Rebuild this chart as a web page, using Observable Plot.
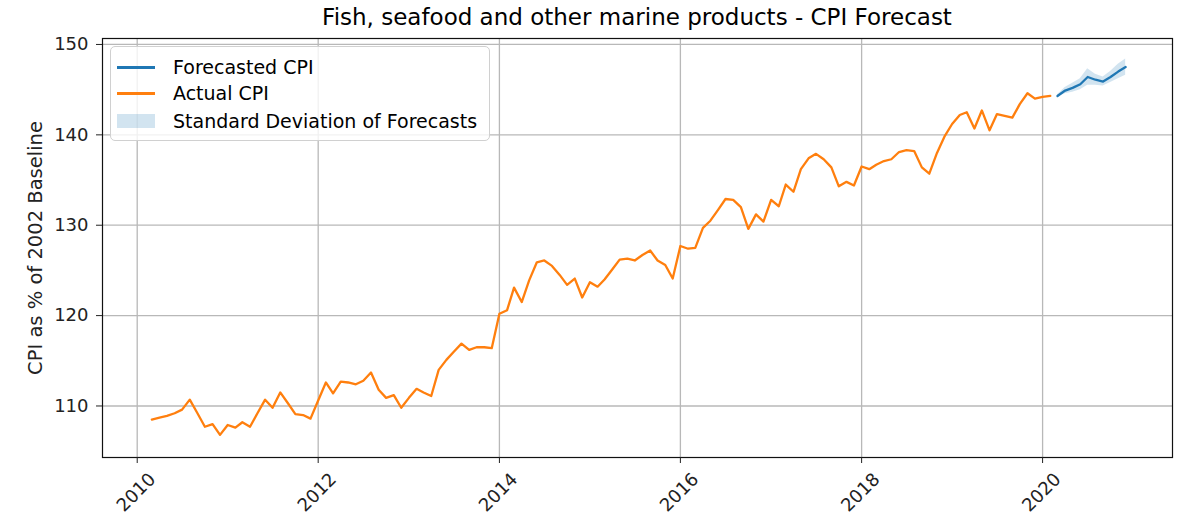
<!DOCTYPE html>
<html><head><meta charset="utf-8">
<script src="https://cdn.jsdelivr.net/npm/d3@7"></script>
<script src="https://cdn.jsdelivr.net/npm/@observablehq/plot@0.6"></script>
<style>
body{margin:0;background:#fff;font-family:"DejaVu Sans",sans-serif;}
#wrap{position:relative;width:1178px;height:521px;}
#title{height:30px;line-height:35px;padding-left:102px;width:1070px;text-align:center;font-size:23px;color:#000;white-space:nowrap;}
#legend{position:absolute;left:110px;top:46px;width:380px;height:95px;border:1px solid #d0d0d0;border-radius:5px;background:rgba(255,255,255,0.8);box-sizing:border-box;font-size:19px;color:#000;}
.row{position:absolute;left:0;width:100%;height:26px;}
.sw{position:absolute;left:6px;width:38px;}
.lab{position:absolute;left:62px;top:0;line-height:26px;white-space:nowrap;}
</style></head><body>
<div id="wrap">
<div id="title">Fish, seafood and other marine products - CPI Forecast</div>
<div id="chart"></div>
<div id="legend"></div>
</div>
<script>
// Monthly actual CPI, Mar 2010 .. Feb 2020
const actualStart = "2010-03-01";
const actualCPI = [
108.5,108.7,108.9,109.2,109.6,110.7,109.2,107.7,108.0,106.8,
107.9,107.6,108.2,107.7,109.2,110.7,109.8,111.5,110.3,109.1,
109.0,108.6,110.6,112.6,111.4,112.7,112.6,112.4,112.8,113.7,
111.8,110.9,111.2,109.8,110.9,111.9,111.5,111.1,114.0,115.1,
116.0,116.9,116.2,116.5,116.5,116.4,120.2,120.6,123.1,121.5,
123.9,125.9,126.1,125.5,124.5,123.4,124.1,122.0,123.7,123.2,
124.0,125.1,126.2,126.3,126.1,126.7,127.2,126.1,125.6,124.1,
127.7,127.4,127.5,129.7,130.5,131.7,132.9,132.8,132.0,129.6,
131.2,130.4,132.8,132.1,134.5,133.7,136.2,137.4,137.9,137.3,
136.4,134.3,134.8,134.4,136.5,136.2,136.7,137.1,137.3,138.1,
138.3,138.2,136.4,135.7,138.0,139.8,141.2,142.2,142.5,140.7,
142.7,140.5,142.3,142.1,141.9,143.4,144.6,144.0,144.2,144.3
];
// Forecast, Mar 2020 .. Dec 2020
const forecastCPI = [144.3,144.9,145.2,145.6,146.4,146.1,145.9,146.4,147.0,147.5];
const forecastStd = [0.15,0.35,0.5,0.6,0.9,0.6,0.5,0.6,0.8,0.9];
const yTicks = [110,120,130,140,150];
const xTickYears = [2010,2012,2014,2016,2018,2020];
const yLabel = "CPI as % of 2002 Baseline";
const seriesNames = ["Forecasted CPI","Actual CPI","Standard Deviation of Forecasts"];
const colors = {forecast:"#1f77b4", actual:"#ff7f0e"};

const start = new Date(actualStart + "T00:00:00Z");
const actual = actualCPI.map((v,i)=>({date:d3.utcMonth.offset(start,i), value:v}));
const forecast = forecastCPI.map((v,i)=>({date:d3.utcMonth.offset(start,actualCPI.length+i), value:v, lo:v-forecastStd[i], hi:v+forecastStd[i]}));
const tickDates = xTickYears.map(y=>new Date(Date.UTC(y,0,1)));

const chart = Plot.plot({
  width:1178, height:491, marginTop:8, marginBottom:64, marginLeft:102, marginRight:6,
  x:{type:"utc", domain:[new Date(Date.UTC(2009,7,14)), new Date(Date.UTC(2021,5,8))]},
  y:{domain:[104.3,150.66]},
  style:{fontFamily:"DejaVu Sans", fontSize:"18px", color:"#222", background:"#fff", overflow:"visible"},
  marks:[
    Plot.gridX(tickDates,{stroke:"#b8b8b8", strokeOpacity:1, strokeWidth:1.3}),
    Plot.gridY(yTicks,{stroke:"#b8b8b8", strokeOpacity:1, strokeWidth:1.3}),
    Plot.areaY(forecast,{x:"date", y1:"lo", y2:"hi", fill:colors.forecast, fillOpacity:0.2}),
    Plot.lineY(actual,{x:"date", y:"value", stroke:colors.actual, strokeWidth:2.3}),
    Plot.lineY(forecast,{x:"date", y:"value", stroke:colors.forecast, strokeWidth:2.3}),
    Plot.frame({stroke:"#111", strokeWidth:1.2}),
    Plot.axisY(yTicks,{tickSize:6, tickPadding:8, fontSize:18, label:null}),
    Plot.text([yLabel],{text:d=>d, frameAnchor:"left", rotate:-90, dx:-67, fontSize:19.5, textAnchor:"middle", lineAnchor:"middle", fill:"#222"}),
    Plot.axisX(tickDates,{tickSize:6, tickFormat:()=>"", label:null}),
    Plot.text(tickDates,{x:d=>d, frameAnchor:"bottom", text:d=>String(d.getUTCFullYear()), rotate:-45, dy:35, dx:-1, fontSize:18, textAnchor:"middle", lineAnchor:"middle", fill:"#222"})
  ]
});
document.getElementById("chart").appendChild(chart);

const leg = document.getElementById("legend");
const rowsTop = [7, 33, 61];
seriesNames.forEach((name,i)=>{
  const r = document.createElement("div");
  r.className="row"; r.style.top = rowsTop[i]+"px";
  const sw = document.createElement("div"); sw.className="sw";
  if(i<2){ sw.style.top="12px"; sw.style.height="3px"; sw.style.background = i===0?colors.forecast:colors.actual; }
  else { sw.style.top="6px"; sw.style.height="14px"; sw.style.background="rgba(31,119,180,0.2)"; }
  const lab = document.createElement("div"); lab.className="lab"; lab.textContent=name;
  r.appendChild(sw); r.appendChild(lab); leg.appendChild(r);
});
</script>
</body></html>
